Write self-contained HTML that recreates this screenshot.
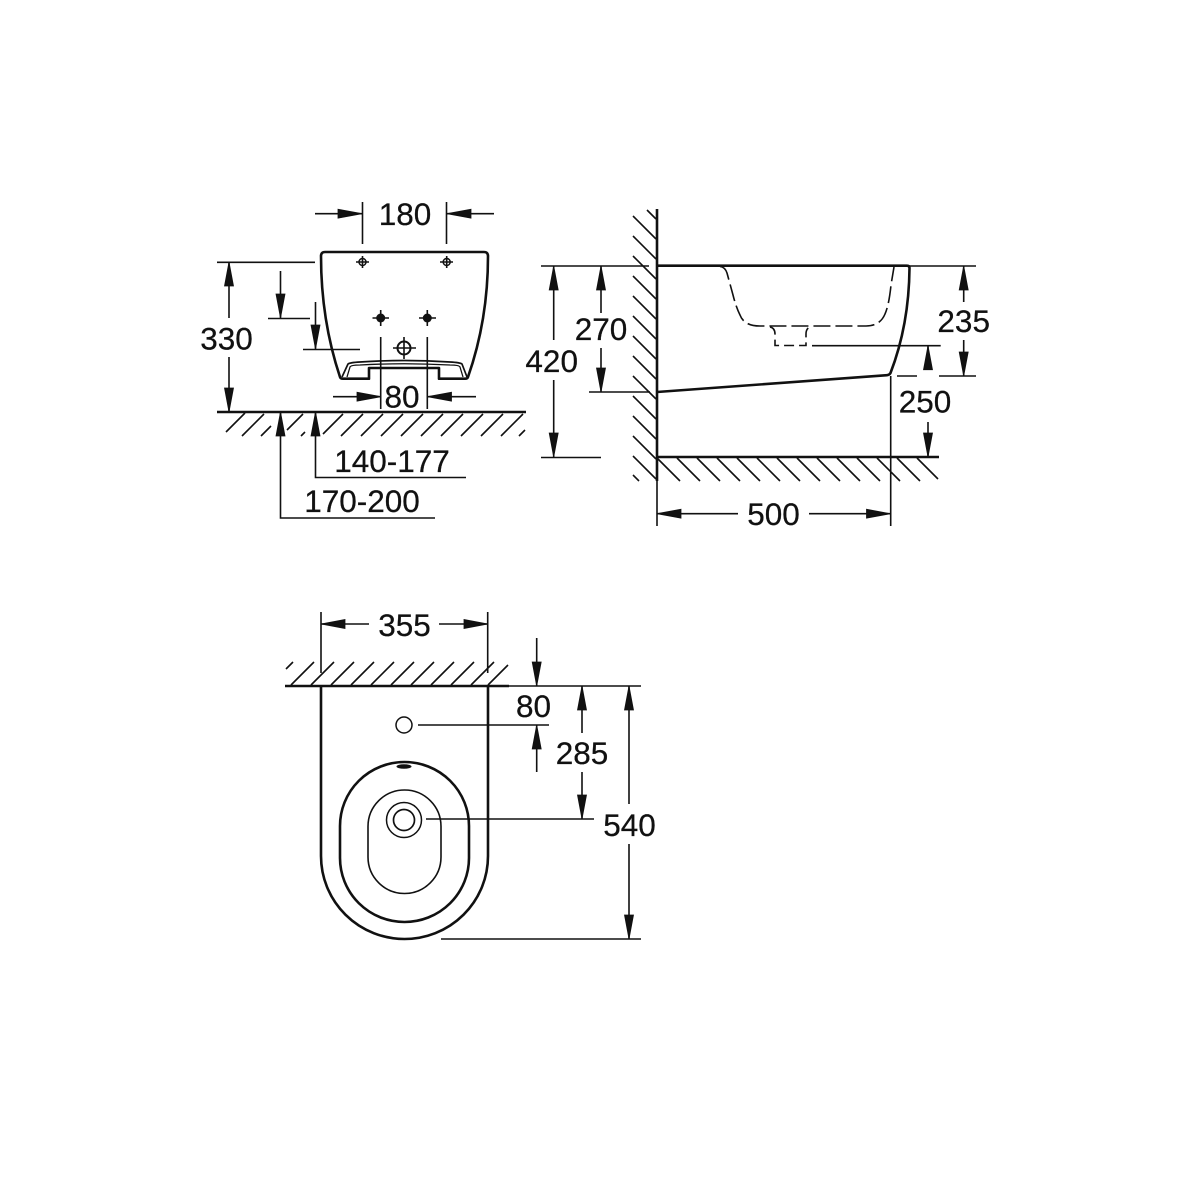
<!DOCTYPE html>
<html>
<head>
<meta charset="utf-8">
<style>
html,body{margin:0;padding:0;background:#fff}
svg{display:block}
text{font-family:"Liberation Sans",sans-serif;font-size:31.5px;fill:#111;stroke:#111;stroke-width:.25px;text-anchor:middle}
polygon{stroke:#111;stroke-width:.8px;stroke-linejoin:miter}
</style>
</head>
<body>
<svg width="1200" height="1200" viewBox="0 0 1200 1200" xmlns="http://www.w3.org/2000/svg">
<rect width="1200" height="1200" fill="#fff"/>

<!-- LEFT VIEW thin lines -->
<g fill="none" stroke="#111" stroke-width="1.6">
<path d="M362.5 202V244M446.5 202V244M315 213.7H362M447 213.7H494"/>
<path d="M217 262.3H315M229 262V318M229 357V412"/>
<path d="M280.500 271V318M268 318.500H310M315.500 302V349M303 349.500H360"/>
<path d="M380.700 337V409M427.300 337V409M333 396.700H381M428 396.700H476"/>
<path d="M315.500 412V477.500H466M280.500 412V518H435"/>
<path d="M245 413L226 432M264 414L242 436M271 426L261 436M303 414L287 430M305 432L301 436M343 414L323 434M363 414L341 436M383 414L361 436M403 414L381 436M423 414L401 436M443 414L421 436M463 414L441 436M483 414L461 436M503 414L481 436M523 414L501 436M525 430L519 436"/>
<path d="M356 262H369M362.500 256V268M440 262H453M446.700 256V268"/>
<path d="M372.500 318H389M380.700 310V326M419 318H436M427.300 310V326M393 348H416M404 337V359"/>
</g>
<circle cx="362.500" cy="262" r="3.500" fill="none" stroke="#111" stroke-width="1.5"/>
<circle cx="446.700" cy="262" r="3.500" fill="none" stroke="#111" stroke-width="1.5"/>
<circle cx="380.700" cy="318" r="4.500" fill="#111"/>
<circle cx="427.300" cy="318" r="4.500" fill="#111"/>
<circle cx="404" cy="348" r="6.500" fill="none" stroke="#111" stroke-width="2"/>

<!-- LEFT VIEW body -->
<g fill="none" stroke="#111" stroke-width="2.6" stroke-linejoin="round">
<path d="M325 252H484Q488 252 488 256Q488 320 468 377Q467.500 378.700 465 378.700H439V368H369V378.700H343Q340.500 378.700 340 377Q321 320 321 256Q321 252 325 252Z"/>
<path d="M217 412H526"/>
<path d="M342 377L348 364Q350 362.500 360 362Q404 359 450 362Q460 362.500 462 364L467 377" stroke-width="1.700"/>
<path d="M347 377L350 367Q351 365 360 365Q404 362.500 450 365Q459 365 460 367L463 377" stroke-width="1.300"/>
</g>

<!-- LEFT VIEW arrows -->
<g fill="#111">
<polygon points="362,213.700 338,209.200 338,218.200"/>
<polygon points="447,213.700 471,209.200 471,218.200"/>
<polygon points="229,262 224.500,286 233.500,286"/>
<polygon points="229,412 224.500,388 233.500,388"/>
<polygon points="280.500,318 276,294 285,294"/>
<polygon points="315.500,349 311,325 320,325"/>
<polygon points="381,396.700 357,392.200 357,401.200"/>
<polygon points="427.500,396.700 451.500,392.200 451.500,401.200"/>
<polygon points="315.500,412 311,436 320,436"/>
<polygon points="280.500,412 276,436 285,436"/>
</g>
<text x="405" y="225">180</text>
<text x="226.500" y="349.500">330</text>
<text x="402" y="407.500">80</text>
<text x="392" y="472">140-177</text>
<text x="362" y="512">170-200</text>

<!-- SIDE VIEW thin lines -->
<g fill="none" stroke="#111" stroke-width="1.6">
<path d="M541 266H649M907 266H976M589 392H650M541 457.500H601"/>
<path d="M553.700 266V340M553.700 380V457M601 266V313M601 348V392"/>
<path d="M963.700 266V302M963.700 340V376M897 376H917M939 376H976"/>
<path d="M928 345.700V363M928 422V457M812 345.700H940.700"/>
<path d="M890.700 376V526M657 457V526M657 513.700H738M809 513.700H890"/>
<path d="M647 210L656 219M633 216L656 239M633 236L656 259M633 256L656 279M633 276L656 299M633 296L656 319M633 316L656 339M633 336L656 359M633 356L656 379M633 376L656 399M633 396L656 419M633 416L656 439M633 436L656 459M633 456L656 479M633 475L639 481"/>
<path d="M657 458L680 481M677 458L700 481M697 458L720 481M717 458L740 481M737 458L760 481M757 458L780 481M777 458L800 481M797 458L820 481M817 458L840 481M837 458L860 481M857 458L880 481M877 458L900 481M897 458L920 481M917 458L938 479"/>
<path d="M720 266.500Q725 267 727 273L733 295Q736 307 740 315Q744 326 760 326H866Q880 326 885 314Q889 305 891 285L894 267" stroke-dasharray="17 5" stroke-width="1.600"/>
<path d="M770 327Q775 328 775 334V345.500H806V334Q806 328 811 326.500" stroke-dasharray="10 5" stroke-width="1.600"/>
</g>
<g fill="none" stroke="#111" stroke-width="2.6" stroke-linejoin="round">
<path d="M657 209V481"/>
<path d="M657 265.700H907Q909.500 265.700 909.500 268Q909 325 890.500 373Q889.500 375 887 375.200L657 392"/>
<path d="M657 457H939"/>
</g>
<g fill="#111">
<polygon points="553.700,266 549.200,290 558.200,290"/>
<polygon points="553.700,457 549.200,433 558.200,433"/>
<polygon points="601,266 596.500,290 605.500,290"/>
<polygon points="601,392 596.500,368 605.500,368"/>
<polygon points="963.700,266 959.200,290 968.200,290"/>
<polygon points="963.700,376 959.200,352 968.200,352"/>
<polygon points="928,345.700 923.500,369.700 932.500,369.700"/>
<polygon points="928,457 923.500,433 932.500,433"/>
<polygon points="657,513.700 681,509.200 681,518.200"/>
<polygon points="890.500,513.700 866.500,509.200 866.500,518.200"/>
</g>
<text x="551.700" y="372">420</text>
<text x="601" y="340">270</text>
<text x="963.700" y="332">235</text>
<text x="925" y="412.500">250</text>
<text x="773.500" y="525">500</text>

<!-- TOP VIEW thin lines -->
<g fill="none" stroke="#111" stroke-width="1.6">
<path d="M321 612V673M487.700 612V673M321 624H369M439 624H488"/>
<path d="M509 686H641M418 725H549M426 819H594M441 939H641"/>
<path d="M536.700 638V686M536.700 725V772M582 686V733M582 772V819M629 686V804M629 844V939"/>
<path d="M286 669L293 662M291 685L314 662M311 685L334 662M331 685L354 662M351 685L374 662M371 685L394 662M391 685L414 662M411 685L434 662M431 685L454 662M451 685L474 662M471 685L494 662M488 685L508 665"/>
<path d="M368 826.500A36.500 36.500 0 0 1 441 826.500V857A36.500 36.500 0 0 1 368 857Z"/>
</g>
<circle cx="404" cy="725" r="8" fill="none" stroke="#111" stroke-width="1.500"/>
<circle cx="404" cy="820" r="17.500" fill="none" stroke="#111" stroke-width="1.500"/>
<circle cx="404" cy="820" r="10.500" fill="none" stroke="#111" stroke-width="1.700"/>
<ellipse cx="404" cy="766.500" rx="7.500" ry="2.300" fill="#111"/>
<g fill="none" stroke="#111" stroke-width="2.6">
<path d="M285 686H509"/>
<path d="M321 686V856A83.500 83 0 0 0 488 856V686"/>
<path d="M340 826A64.500 64 0 0 1 469 826V858A64.500 64 0 0 1 340 858Z"/>
</g>
<g fill="#111">
<polygon points="321,624 345,619.500 345,628.500"/>
<polygon points="488,624 464,619.500 464,628.500"/>
<polygon points="536.700,686 532.200,662 541.200,662"/>
<polygon points="536.700,725 532.200,749 541.200,749"/>
<polygon points="582,686 577.500,710 586.500,710"/>
<polygon points="582,819 577.500,795 586.500,795"/>
<polygon points="629,686 624.500,710 633.500,710"/>
<polygon points="629,939 624.500,915 633.500,915"/>
</g>
<text x="404.500" y="636">355</text>
<text x="533.500" y="717">80</text>
<text x="582" y="764">285</text>
<text x="629.500" y="836">540</text>
</svg>
</body>
</html>
